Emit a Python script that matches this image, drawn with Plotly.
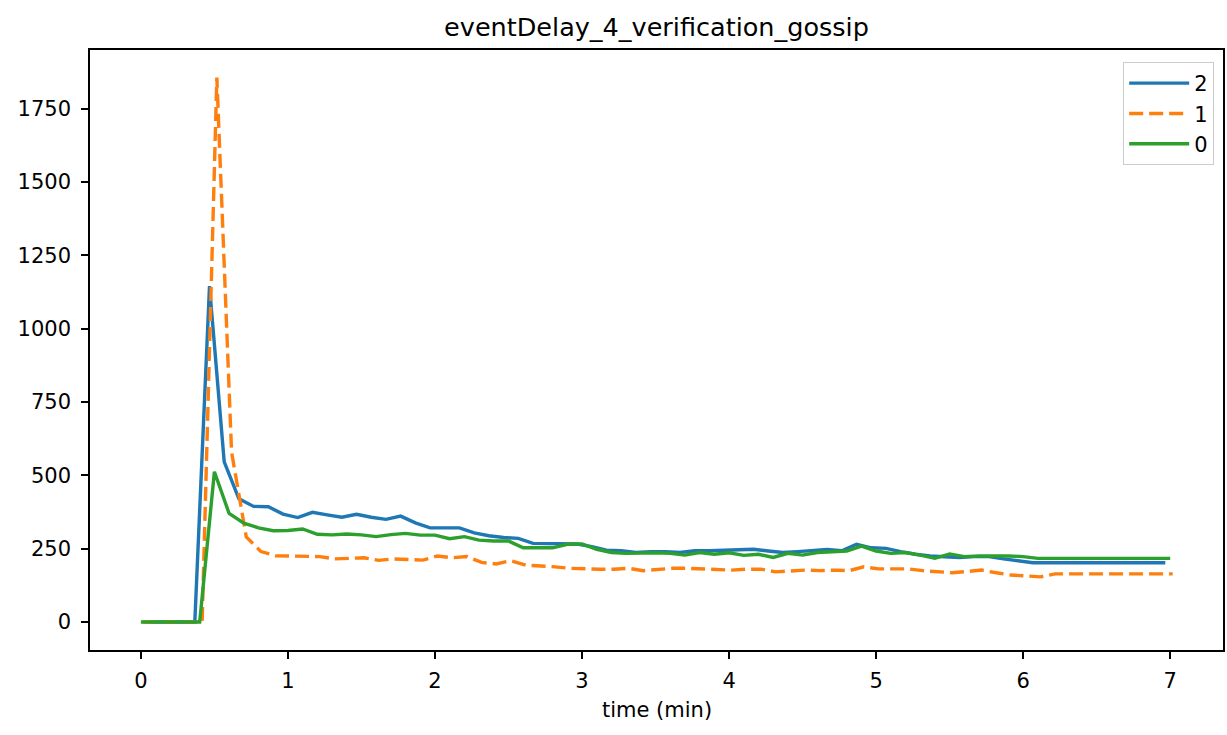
import plotly.graph_objects as go

# ---- data ----
series_names = ["2", "1", "0"]
colors = ["#1f77b4", "#ff7f0e", "#2ca02c"]

# sample times in seconds
time_s_2 = [4, 10, 16, 22, 28, 34, 40, 46, 52, 58, 64, 70, 76, 82, 88, 94, 100, 106, 112, 118,
            124, 130, 136, 142, 148, 154, 160, 166, 172, 178, 184, 190, 196, 202, 208, 214, 220, 226, 232, 238,
            244, 250, 256, 262, 268, 274, 280, 286, 292, 298, 304, 310, 316, 322, 328, 334, 340, 346, 352, 358,
            364, 370, 376, 382, 388, 394, 400, 406, 412, 418]
delay_2 = [0, 0, 0, 0, 1145, 546, 420, 394, 393, 368, 356, 374, 365, 357, 367, 357, 350, 361, 338, 321,
           321, 321, 304, 294, 288, 285, 268, 268, 268, 266, 257, 245, 243, 237, 240, 240, 237, 243, 243, 245,
           248, 248, 242, 237, 240, 243, 247, 243, 265, 253, 251, 240, 231, 225, 223, 220, 223, 223, 215, 208,
           202, 202, 202, 202, 202, 202, 202, 202, 202, 202]

time_s_1 = [1, 7, 13, 19, 25, 31, 37, 43, 49, 55, 61, 67, 73, 79, 85, 91, 97, 103, 109, 115,
            121, 127, 133, 139, 145, 151, 157, 163, 169, 175, 181, 187, 193, 199, 205, 211, 217, 223, 229, 235,
            241, 247, 253, 259, 265, 271, 277, 283, 289, 295, 301, 307, 313, 319, 325, 331, 337, 343, 349, 355,
            361, 367, 373, 379, 385, 391, 397, 403, 409, 415, 421]
delay_1 = [0, 0, 0, 0, 0, 1856, 579, 290, 240, 226, 225, 223, 223, 215, 217, 219, 210, 215, 213, 211,
           225, 219, 223, 203, 198, 209, 194, 192, 188, 183, 181, 180, 180, 183, 175, 180, 183, 183, 181, 177,
           177, 180, 180, 171, 174, 177, 175, 177, 175, 188, 181, 181, 181, 175, 171, 168, 172, 177, 168, 160,
           157, 154, 164, 164, 164, 164, 164, 164, 164, 164, 164]

time_s_0 = [0, 6, 12, 18, 24, 30, 36, 42, 48, 54, 60, 66, 72, 78, 84, 90, 96, 102, 108, 114,
            120, 126, 132, 138, 144, 150, 156, 162, 168, 174, 180, 186, 192, 198, 204, 210, 216, 222, 228, 234,
            240, 246, 252, 258, 264, 270, 276, 282, 288, 294, 300, 306, 312, 318, 324, 330, 336, 342, 348, 354,
            360, 366, 372, 378, 384, 390, 396, 402, 408, 414, 420]
delay_0 = [0, 0, 0, 0, 0, 512, 370, 337, 321, 311, 312, 317, 299, 297, 300, 297, 291, 298, 302, 296,
           296, 284, 291, 279, 276, 276, 253, 253, 253, 265, 266, 248, 237, 234, 236, 236, 234, 228, 237, 231,
           236, 227, 231, 220, 234, 228, 237, 240, 242, 259, 242, 234, 237, 228, 217, 232, 223, 225, 226, 225,
           223, 217, 217, 217, 217, 217, 217, 217, 217, 217, 217]

x_ticks = [0, 1, 2, 3, 4, 5, 6, 7]
y_ticks = [0, 250, 500, 750, 1000, 1250, 1500, 1750]
title_text = "eventDelay_4_verification_gossip"
x_label = "time (min)"

times = [time_s_2, time_s_1, time_s_0]
values = [delay_2, delay_1, delay_0]
dashes = ["solid", "14px,6px", "solid"]

FONT = "DejaVu Sans, Liberation Sans, sans-serif"
TICK_FONT = dict(family=FONT, size=21, color="black")

fig = go.Figure()
for name, col, ts, vs, dash in zip(series_names, colors, times, values, dashes):
    fig.add_trace(go.Scatter(
        x=[t / 60.0 for t in ts], y=vs, mode="lines", name=name,
        legendgroup=name,
        line=dict(color=col, width=3.4, dash=dash),
    ))

fig.update_layout(
    width=1227, height=735,
    autosize=False,
    margin=dict(l=90, r=2, t=50, b=85),
    paper_bgcolor="white", plot_bgcolor="white",
    font=dict(family=FONT, size=21, color="black"),
    title=dict(text=title_text, x=0.5, xref="paper", xanchor="center",
               y=1 - 27 / 735, yref="container", yanchor="middle",
               font=dict(family=FONT, size=25.5, color="black")),
    showlegend=True,
    legend=dict(x=(1125 - 90) / 1135, y=(650 - 62) / 600, xanchor="left", yanchor="top",
                bgcolor="white", bordercolor="#cccccc", borderwidth=1,
                font=dict(family=FONT, size=21, color="black"),
                itemwidth=60,
                traceorder="grouped", tracegroupgap=0),
    xaxis=dict(range=[-0.346, 7.359], tickvals=x_ticks, ticktext=[str(v) for v in x_ticks],
               showgrid=False, zeroline=False, showline=True, linecolor="black", linewidth=1.5,
               mirror=True, ticks="outside", ticklen=7, tickwidth=1.5, tickcolor="black",
               ticklabelstandoff=4,
               tickfont=TICK_FONT),
    yaxis=dict(range=[-95.4, 1949.6], tickvals=y_ticks, ticktext=[str(v) for v in y_ticks],
               showgrid=False, zeroline=False, showline=True, linecolor="black", linewidth=1.5,
               mirror=True, ticks="outside", ticklen=7, tickwidth=1.5, tickcolor="black",
               ticklabelstandoff=6,
               tickfont=TICK_FONT),
    annotations=[dict(text=x_label, x=0.5, xref="paper", y=-0.1, yref="paper",
                      xanchor="center", yanchor="middle", showarrow=False,
                      font=dict(family=FONT, size=21, color="black"))],
)

fig.write_html(
    "out.html",
    config={"responsive": False, "displayModeBar": False},
    post_script="document.body.style.margin='0px';document.body.style.overflow='hidden';",
)
